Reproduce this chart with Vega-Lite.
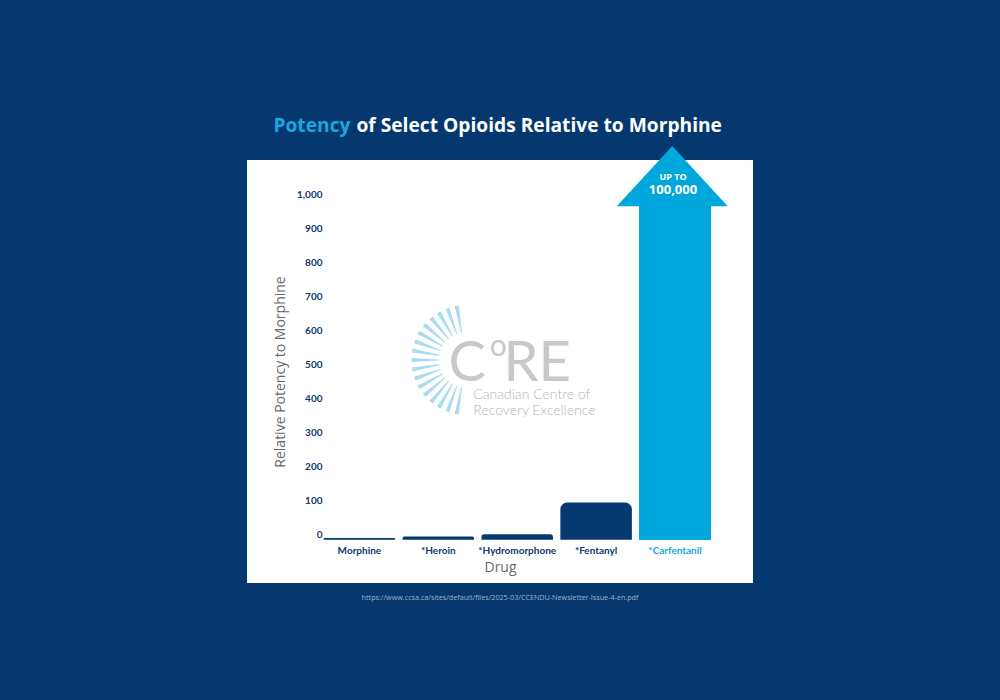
{
  "$schema": "https://vega.github.io/schema/vega-lite/v6.json",
  "autosize": {"type": "none"},
  "width": 506,
  "height": 423,
  "padding": {"left": 247, "top": 160, "right": 247, "bottom": 117},
  "background": "#04386e",
  "title": {
    "text": "https://www.ccsa.ca/sites/default/files/2025-03/CCENDU-Newsletter-Issue-4-en.pdf",
    "orient": "bottom",
    "anchor": "middle",
    "frame": "group",
    "fontSize": 7.2,
    "font": "Open Sans",
    "fontWeight": "normal",
    "color": "#9fb2c9",
    "offset": 11
  },
  "config": {
    "view": {"fill": "white", "stroke": null},
    "font": "Lato"
  },
  "datasets": {
    "drugs": [
      {"drug": "Morphine", "potency": 1},
      {"drug": "*Heroin", "potency": 5},
      {"drug": "*Hydromorphone", "potency": 12},
      {"drug": "*Fentanyl", "potency": 105},
      {"drug": "*Carfentanil", "potency": 982}
    ],
    "texts": [
      {"key": "title1", "text": "Potency"},
      {"key": "title2", "text": "of Select Opioids Relative to Morphine"},
      {"key": "up", "text": "UP TO"},
      {"key": "amount", "text": "100,000"},
      {"key": "C", "text": "C"},
      {"key": "o", "text": "o"},
      {"key": "RE", "text": "RE"},
      {"key": "sub1", "text": "Canadian Centre of"},
      {"key": "sub2", "text": "Recovery Excellence"}
    ],
    "logo": [{"part": "rays"}]
  },
  "layer": [
    {
      "data": {"name": "drugs"},
      "transform": [{"filter": "datum.drug !== '*Carfentanil'"}],
      "mark": {
        "type": "bar",
        "color": "#053a70",
        "stroke": "#053a70",
        "strokeWidth": 1.5,
        "cornerRadiusTopLeft": 6,
        "cornerRadiusTopRight": 6
      },
      "encoding": {
        "x": {
          "field": "drug",
          "type": "nominal",
          "sort": null,
          "scale": {
            "domain": ["Morphine", "*Heroin", "*Hydromorphone", "*Fentanyl", "*Carfentanil"],
            "paddingInner": 0.113,
            "paddingOuter": 0.763,
            "align": 0.643
          },
          "axis": {
            "orient": "bottom",
            "offset": -44,
            "zindex": 2,
            "title": "Drug",
            "labelAngle": 0,
            "ticks": false,
            "domain": false,
            "grid": false,
            "labelPadding": 6,
            "labelFontSize": 10,
            "labelFontWeight": "bold",
            "labelFont": "Lato",
            "labelColor": {"condition": {"test": "datum.value === '*Carfentanil'", "value": "#13a6dc"}, "value": "#0b3a6e"},
            "titleFont": "Open Sans",
            "titleFontSize": 14,
            "titleFontWeight": "normal",
            "titleColor": "#6a6a6a",
            "titlePadding": 5
          }
        },
        "y": {
          "field": "potency",
          "type": "quantitative",
          "scale": {"domain": [-129.4, 1114.7], "nice": false, "zero": false},
          "axis": {
            "orient": "left",
            "offset": -75,
            "zindex": 2,
            "title": "Relative Potency to Morphine",
            "values": [0, 100, 200, 300, 400, 500, 600, 700, 800, 900, 1000],
            "format": ",.0f",
            "ticks": false,
            "domain": false,
            "grid": false,
            "labelPadding": 0,
            "labelOffset": -1.5,
            "labelFontSize": 10,
            "labelFontWeight": "bold",
            "labelFont": "Lato",
            "labelColor": "#0b3a6e",
            "labelBaseline": "alphabetic",
            "titleFont": "Open Sans",
            "titleFontSize": 14,
            "titleFontWeight": "normal",
            "titleColor": "#6a6a6a",
            "titlePadding": 9
          }
        },
        "y2": {"datum": 0}
      }
    },
    {
      "data": {"name": "logo"},
      "mark": {
        "type": "point",
        "filled": true,
        "opacity": 1,
        "color": "#aadcf0",
        "strokeWidth": 0,
        "shape": "M0.373,-0.991L0.298,-0.977L0.414,-0.491L0.431,-0.494Z M0.203,-0.952L0.131,-0.926L0.330,-0.467L0.346,-0.473Z M0.043,-0.885L-0.024,-0.846L0.251,-0.429L0.267,-0.437Z M-0.104,-0.790L-0.163,-0.741L0.181,-0.377L0.194,-0.389Z M-0.232,-0.672L-0.281,-0.613L0.120,-0.315L0.132,-0.328Z M-0.337,-0.533L-0.376,-0.466L0.072,-0.242L0.080,-0.258Z M-0.417,-0.378L-0.443,-0.306L0.036,-0.163L0.042,-0.179Z M-0.468,-0.211L-0.482,-0.136L0.015,-0.078L0.018,-0.095Z M-0.490,-0.038L-0.490,0.038L0.009,0.009L0.009,-0.009Z M-0.482,0.136L-0.468,0.211L0.018,0.095L0.015,0.078Z M-0.443,0.306L-0.417,0.378L0.042,0.179L0.036,0.163Z M-0.376,0.466L-0.337,0.533L0.080,0.258L0.072,0.242Z M-0.281,0.613L-0.232,0.672L0.132,0.328L0.120,0.315Z M-0.163,0.741L-0.104,0.790L0.194,0.389L0.181,0.377Z M-0.024,0.846L0.043,0.885L0.267,0.437L0.251,0.429Z M0.131,0.926L0.203,0.952L0.346,0.473L0.330,0.467Z M0.298,0.977L0.373,0.991L0.431,0.494L0.414,0.491Z",
        "size": 12100
      },
      "encoding": {
        "x": {"datum": "*Heroin", "type": "nominal"},
        "y": {"datum": 526.5, "type": "quantitative"}
      }
    },
    {
      "data": {"name": "texts"},
      "transform": [{"filter": "datum.key === 'C'"}],
      "mark": {"type": "text", "fontSize": 56, "fontWeight": 400, "color": "#c8c8c8", "align": "center", "baseline": "alphabetic", "dx": -50},
      "encoding": {
        "x": {"datum": "*Hydromorphone", "type": "nominal"},
        "y": {"datum": 464.7, "type": "quantitative"},
        "text": {"field": "text"}
      }
    },
    {
      "data": {"name": "texts"},
      "transform": [{"filter": "datum.key === 'RE'"}],
      "mark": {"type": "text", "fontSize": 56, "fontWeight": 400, "color": "#c8c8c8", "align": "center", "baseline": "alphabetic", "dx": 20},
      "encoding": {
        "x": {"datum": "*Hydromorphone", "type": "nominal"},
        "y": {"datum": 464.7, "type": "quantitative"},
        "text": {"field": "text"}
      }
    },
    {
      "data": {"name": "texts"},
      "transform": [{"filter": "datum.key === 'o'"}],
      "mark": {"type": "text", "fontSize": 30, "fontWeight": 400, "color": "#c8c8c8", "align": "center", "baseline": "alphabetic", "dx": -19},
      "encoding": {
        "x": {"datum": "*Hydromorphone", "type": "nominal"},
        "y": {"datum": 538, "type": "quantitative"},
        "text": {"field": "text"}
      }
    },
    {
      "data": {"name": "texts"},
      "transform": [{"filter": "datum.key === 'sub1'"}],
      "mark": {"type": "text", "fontSize": 14, "fontWeight": 300, "color": "#b4b4b4", "align": "left", "baseline": "alphabetic", "dx": 35},
      "encoding": {
        "x": {"datum": "*Heroin", "type": "nominal"},
        "y": {"datum": 411.8, "type": "quantitative"},
        "text": {"field": "text"}
      }
    },
    {
      "data": {"name": "texts"},
      "transform": [{"filter": "datum.key === 'sub2'"}],
      "mark": {"type": "text", "fontSize": 14, "fontWeight": 300, "color": "#b4b4b4", "align": "left", "baseline": "alphabetic", "dx": 35},
      "encoding": {
        "x": {"datum": "*Heroin", "type": "nominal"},
        "y": {"datum": 364.7, "type": "quantitative"},
        "text": {"field": "text"}
      }
    },
    {
      "data": {"name": "drugs"},
      "transform": [{"filter": "datum.drug === '*Carfentanil'"}],
      "mark": {"type": "bar", "color": "#00a7dc", "stroke": "#00a7dc", "strokeWidth": 2},
      "encoding": {
        "x": {"field": "drug", "type": "nominal"},
        "y": {"field": "potency", "type": "quantitative"},
        "y2": {"datum": 0}
      }
    },
    {
      "data": {"name": "drugs"},
      "transform": [{"filter": "datum.drug === '*Carfentanil'"}],
      "mark": {
        "type": "point",
        "filled": true,
        "opacity": 1,
        "color": "#00a7dc",
        "strokeWidth": 0,
        "shape": "M-1.05,0.02L0.95,0.02L-0.05,-1.063Z",
        "size": 12321
      },
      "encoding": {
        "x": {"field": "drug", "type": "nominal"},
        "y": {"field": "potency", "type": "quantitative"}
      }
    },
    {
      "data": {"name": "texts"},
      "transform": [{"filter": "datum.key === 'up'"}],
      "mark": {"type": "text", "fontSize": 9, "fontWeight": "bold", "color": "white", "align": "center", "baseline": "middle", "font": "Open Sans", "dx": -2},
      "encoding": {
        "x": {"datum": "*Carfentanil", "type": "nominal"},
        "y": {"datum": 1064.7, "type": "quantitative"},
        "text": {"field": "text"}
      }
    },
    {
      "data": {"name": "texts"},
      "transform": [{"filter": "datum.key === 'amount'"}],
      "mark": {"type": "text", "fontSize": 13, "fontWeight": "bold", "color": "white", "align": "center", "baseline": "middle", "font": "Open Sans", "dx": -2},
      "encoding": {
        "x": {"datum": "*Carfentanil", "type": "nominal"},
        "y": {"datum": 1026.5, "type": "quantitative"},
        "text": {"field": "text"}
      }
    },
    {
      "data": {"name": "texts"},
      "transform": [{"filter": "datum.key === 'title1'"}],
      "mark": {"type": "text", "fontSize": 19.2, "fontWeight": "bold", "color": "#1ca8de", "align": "right", "baseline": "alphabetic", "font": "Open Sans", "dx": -9},
      "encoding": {
        "x": {"datum": "Morphine", "type": "nominal"},
        "y": {"datum": 1197, "type": "quantitative"},
        "text": {"field": "text"}
      }
    },
    {
      "data": {"name": "texts"},
      "transform": [{"filter": "datum.key === 'title2'"}],
      "mark": {"type": "text", "fontSize": 19.2, "fontWeight": "bold", "color": "white", "align": "left", "baseline": "alphabetic", "font": "Open Sans", "dx": -3},
      "encoding": {
        "x": {"datum": "Morphine", "type": "nominal"},
        "y": {"datum": 1197, "type": "quantitative"},
        "text": {"field": "text"}
      }
    }
  ]
}
